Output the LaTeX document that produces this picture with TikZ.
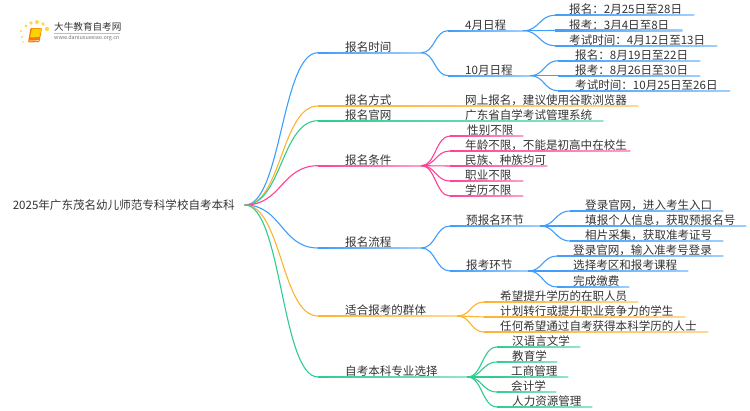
\documentclass[tikz,border=0pt]{standalone}
\usepackage{fontspec}
\setmainfont{Noto Sans CJK SC}
\usetikzlibrary{calc}
\definecolor{cblue}{HTML}{3F9DFB}
\definecolor{corange}{HTML}{FFB22E}
\definecolor{cgreen}{HTML}{2ECC8F}
\definecolor{cpink}{HTML}{FF4094}
\definecolor{ctext}{HTML}{333333}
\tikzset{
  topic/.style={inner sep=0pt,anchor=south west,text=ctext,font=\fontsize{11.55pt}{13pt}\selectfont,
    text height=11pt,text depth=1.3pt,align=left},
  link/.style={line width=1.1pt,line cap=round},
}
% name, parent anchor, colour, x start, x end, y, text x, text
\newcommand{\br}[8]{%
  \pgfmathsetmacro{\mywidth}{#5-#4}%
  \pgfmathsetmacro{\myoffset}{#7-#4}%
  \node[topic,text width=\mywidth pt] (#1) at (#4,#6) {\hspace*{\myoffset pt}#8};
  \draw[link,#3] let \p1=(#2),\p2=(#1.south west),\n1={(\x2-\x1)/2} in
    (\p1) .. controls +(\n1,0) and +(-\n1,0) .. (\p2);
  \shade[left color=#3,right color=#3!50] ([yshift=.6pt]#1.south west) rectangle ([yshift=-.6pt]#1.south east);
}
\begin{document}
\begin{tikzpicture}[x=1pt,y=-1pt]
\useasboundingbox (0,0) rectangle (750,410);
% logo
\foreach \a/\b/\r in {21/31/1.2,26/26/1.6,31/23/1.9,37/22/2,43/24/1.9,47/29/2.2,22/37/1.1,23/42/.9}
  \fill[orange!45!yellow!70] (\a,\b) circle (\r);
\fill[orange!90!red,rounded corners=1pt] (30.5,28) -- (42,28) -- (39.5,42) -- (28,42.5) -- cycle;
\fill[yellow!70!orange,rounded corners=.6pt] (32,28.5) -- (41.5,28.5) -- (39.5,37) -- (30,37.5) -- cycle;
\draw[orange!35!white,line width=.8pt] (28.5,41) -- (39,40.5);
\node[inner sep=0pt,anchor=west,text=ctext,font=\fontsize{9.6pt}{11pt}\selectfont] (logotitle) at (54,27) {大牛教育自考网};
\node[inner sep=0pt,anchor=west,text=black!55,font=\fontsize{5.4pt}{6pt}\selectfont] (logourl) at (54,38.5) {www.daniuxuexiao.org.cn};
\draw[black!25,line width=.4pt] (54,33) -- (120,33);
% root
\node[inner sep=0pt,anchor=east,text width=232pt,text=ctext,font=\fontsize{11.55pt}{13pt}\selectfont] (root) at (245,205) {2025年广东茂名幼儿师范专科学校自考本科};
% first level
\br{a}{root.east}{cblue}{318}{421}{52.7}{345}{报名时间}
\br{b}{root.east}{corange}{318}{421}{106}{345}{报名方式}
\br{c}{root.east}{cgreen}{318}{421}{120.7}{345}{报名官网}
\br{d}{root.east}{cpink}{318}{421}{165.7}{345}{报名条件}
\br{e}{root.east}{cblue}{318}{421}{248}{345}{报名流程}
\br{f}{root.east}{corange}{318}{457}{316}{345}{适合报考的群体}
\br{g}{root.east}{cgreen}{318}{467}{377}{345}{自考本科专业选择}
\br{b1}{b.south east}{corange}{448}{638}{106}{465}{网上报名，建议使用谷歌浏览器}
\br{c1}{c.south east}{cgreen}{448}{603}{120.7}{465}{广东省自学考试管理系统}
\shade[left color=corange,right color=corange!50] ([yshift=.6pt]b.south west) rectangle ([yshift=-.6pt]b1.south east);
\shade[left color=cgreen,right color=cgreen!50] ([yshift=.6pt]c.south west) rectangle ([yshift=-.6pt]c1.south east);
% time
\br{a1}{a.south east}{cblue}{448}{523}{30.7}{465}{4月日程}
\br{a2}{a.south east}{cblue}{448}{530}{75.7}{465}{10月日程}
\br{a11}{a1.south east}{cblue}{555}{694}{15.3}{569}{报名：2月25日至28日}
\br{a12}{a1.south east}{cblue}{555}{682}{30.5}{569}{报考：3月4日至8日}
\br{a13}{a1.south east}{cblue}{555}{717}{45.7}{569}{考试时间：4月12日至13日}
\br{a21}{a2.south east}{cblue}{558}{700}{60.7}{575}{报名：8月19日至22日}
\br{a22}{a2.south east}{cblue}{558}{700}{75.7}{575}{报考：8月26日至30日}
\br{a23}{a2.south east}{cblue}{558}{730}{90.7}{575}{考试时间：10月25日至26日}
% conditions
\br{d1}{d.south east}{cpink}{450}{523}{136}{467}{性别不限}
\br{d2}{d.south east}{cpink}{450}{630}{151}{465}{年龄不限，不能是初高中在校生}
\br{d3}{d.south east}{cpink}{450}{547}{166}{465}{民族、种族均可}
\br{d4}{d.south east}{cpink}{450}{523}{181}{465}{职业不限}
\br{d5}{d.south east}{cpink}{450}{523}{196}{465}{学历不限}
% process
\br{e1}{e.south east}{cblue}{450}{540}{226}{466}{预报名环节}
\br{e2}{e.south east}{cblue}{450}{528}{271}{466}{报考环节}
\br{e11}{e1.south east}{cblue}{570}{723}{211}{585}{登录官网，进入考生入口}
\br{e12}{e1.south east}{cblue}{570}{746}{226}{585}{填报个人信息，获取预报名号}
\br{e13}{e1.south east}{cblue}{570}{723}{241}{585}{相片采集，获取准考证号}
\br{e21}{e2.south east}{cblue}{557}{723}{256}{573}{登录官网，输入准考号登录}
\br{e22}{e2.south east}{cblue}{557}{688}{271}{573}{选择考区和报考课程}
\br{e23}{e2.south east}{cblue}{557}{629}{287}{573}{完成缴费}
% groups
\br{f1}{f.south east}{corange}{484}{638}{302}{500}{希望提升学历的在职人员}
\br{f2}{f.south east}{corange}{484}{685}{317}{500}{计划转行或提升职业竞争力的学生}
\br{f3}{f.south east}{corange}{484}{708}{332}{500}{任何希望通过自考获得本科学历的人士}
% majors
\br{g1}{g.south east}{cgreen}{497}{580}{347}{512}{汉语言文学}
\br{g2}{g.south east}{cgreen}{497}{557}{362}{512}{教育学}
\br{g3}{g.south east}{cgreen}{497}{568}{377}{511}{工商管理}
\br{g4}{g.south east}{cgreen}{497}{556}{392}{511}{会计学}
\br{g5}{g.south east}{cgreen}{497}{592}{407}{512}{人力资源管理}
\end{tikzpicture}
\end{document}
